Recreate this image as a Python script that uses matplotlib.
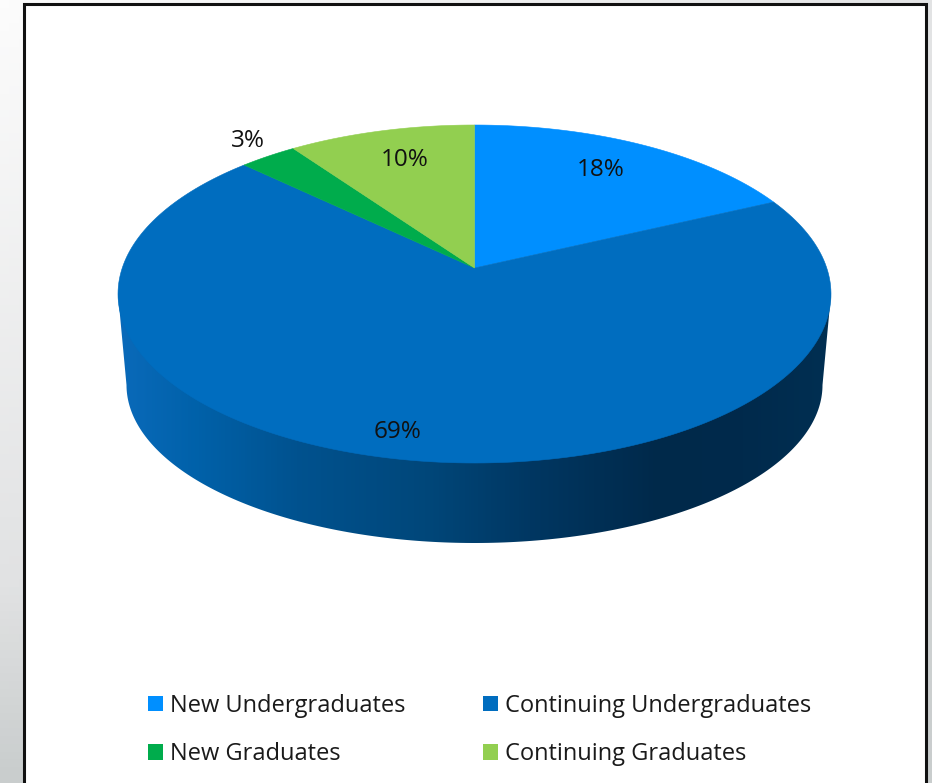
import matplotlib
matplotlib.use("Agg")
import matplotlib.pyplot as plt
from matplotlib.colors import LinearSegmentedColormap
from matplotlib.patches import Rectangle
import numpy as np

categories = ["New Undergraduates", "Continuing Undergraduates",
              "New Graduates", "Continuing Graduates"]
shares = [18.0, 69.13, 3.04, 9.83]
share_labels = ["18%", "69%", "3%", "10%"]

COLORS = ["#008FFF", "#006DBF", "#00AC4C", "#92CF50"]
FONT = "Open Sans"

W, H = 932, 783

# top face of the disc on screen, pixels
CX, CY, RX, RY = 474.5, 294.0, 356.5, 169.0
APEX_SHIFT = 26.0 / RY     # perspective moves the pie centre up the ellipse
# lower rim
BOT_CY, BOT_RX, BOT_RY = 385.0, 348.0, 158.0


def project(theta):
    """Clockwise angle from 12 o'clock on the real circle -> screen pixels."""
    u, v = np.sin(theta), np.cos(theta)
    k = APEX_SHIFT
    denom = 1 + v * k
    return (CX + RX * u * np.sqrt(1 - k ** 2) / denom,
            CY - RY * (v + k) / denom)


def slice_points(start, stop):
    th = np.linspace(start, stop, 200)
    x, y = project(th)
    return np.r_[CX, x], np.r_[CY - RY * APEX_SHIFT, y]


fig = plt.figure(figsize=(W / 100, H / 100), dpi=100)
ax = fig.add_axes([0, 0, 1, 1])
ax.set_xlim(0, W)
ax.set_ylim(H, 0)
ax.axis("off")

# slide background behind the white panel
bg = LinearSegmentedColormap.from_list(
    "bg", [(0, "#FCFCFC"), (0.75, "#E1E2E3"), (1, "#C9CDCD")])
yy, xx = np.mgrid[0:1:100j, 0:1:100j]
ax.imshow(yy + xx * 0.7 * (1 - yy), cmap=bg, vmin=0, vmax=1,
          extent=[0, W, H, 0], aspect="auto", zorder=0)
ax.add_patch(Rectangle((23.5, 4), 902, H + 10, fc="white", ec="#111111",
                       lw=2.2, zorder=1))

# side wall of the disc with its horizontal shading
shade = LinearSegmentedColormap.from_list("shade", [
    (0.00, "#0A6ABA"), (0.11, "#0061A9"), (0.25, "#00528F"), (0.43, "#00477A"),
    (0.58, "#003762"), (0.76, "#00294A"), (0.88, "#002A4C"), (1.00, "#002F52"),
])
im = ax.imshow(np.linspace(0, 1, 400)[None, :], cmap=shade, vmin=0, vmax=1,
               extent=[CX - RX, CX + RX, BOT_CY + BOT_RY + 2, CY], aspect="auto",
               zorder=2)
arc = np.linspace(np.pi, 0, 200)
wall_x = np.r_[CX - RX, CX + BOT_RX * np.cos(arc), CX + RX]
wall_y = np.r_[CY, BOT_CY + BOT_RY * np.sin(arc), CY]
clip = plt.Polygon(np.c_[wall_x, wall_y], closed=True, transform=ax.transData,
                   fc="none", ec="none")
ax.add_patch(clip)
im.set_clip_path(clip)

# top face, clockwise from 12 o'clock
edges = np.r_[0, np.cumsum(shares)] / np.sum(shares) * 2 * np.pi
for start, stop, color in zip(edges[:-1], edges[1:], COLORS):
    x, y = slice_points(start, stop)
    ax.fill(x, y, fc=color, ec=color, lw=0.4, zorder=3)

# value labels
label_pos = [(601, 170), (398, 432), (248, 141), (405, 160)]
for txt, (lx, ly) in zip(share_labels, label_pos):
    ax.text(lx, ly, txt, ha="center", va="center", fontsize=17.5,
            family=FONT, color="#111111", zorder=4)

# legend
handles = [Rectangle((0, 0), 1, 1, fc=c, ec="none") for c in COLORS]
# matplotlib fills columns first, so feed it column by column
order = [0, 2, 1, 3]
ax.legend([handles[i] for i in order], [categories[i] for i in order],
          ncol=2, loc="upper left", bbox_to_anchor=(148, 694),
          bbox_transform=ax.transData, frameon=False, borderpad=0,
          borderaxespad=0, prop={"family": FONT, "size": 17},
          labelcolor="#1A1A1A", handlelength=0.635, handleheight=0.635,
          handletextpad=0.28, labelspacing=1.02, columnspacing=3.32)

fig.savefig("out.png", dpi=100)
